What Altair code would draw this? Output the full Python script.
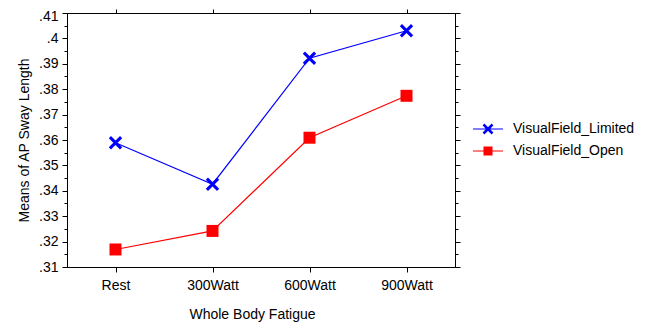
import altair as alt
import pandas as pd

categories = ["Rest", "300Watt", "600Watt", "900Watt"]
series_names = ["VisualField_Limited", "VisualField_Open"]
limited_values = [0.3589, 0.3426, 0.3922, 0.4030]
open_values = [0.3169, 0.3242, 0.3609, 0.3774]
y_tick_values = [0.31, 0.315, 0.32, 0.325, 0.33, 0.335, 0.34, 0.345, 0.35, 0.355,
                 0.36, 0.365, 0.37, 0.375, 0.38, 0.385, 0.39, 0.395, 0.40, 0.405, 0.41]

rows = []
for name, vals in zip(series_names, [limited_values, open_values]):
    for c, v in zip(categories, vals):
        rows.append({"fatigue": c, "series": name, "value": v})
df = pd.DataFrame(rows)

BLUE = "#0000ff"
RED = "#ff0000"
FONT = "Liberation Sans"
FS = 14


def xpath(a, w):
    d = w / 2 ** 0.5
    p1 = [(-a + d, -a - d), (a + d, a - d), (a - d, a + d), (-a - d, -a + d)]
    p2 = [(-a - d, a - d), (a - d, -a - d), (a + d, -a + d), (-a + d, a + d)]
    out = ""
    for poly in (p1, p2):
        out += "M" + "L".join(f"{x:.3f},{y:.3f}" for x, y in poly) + "Z"
    return out


def sqpath(s):
    return f"M{-s:.3f},{-s:.3f}L{s:.3f},{-s:.3f}L{s:.3f},{s:.3f}L{-s:.3f},{s:.3f}Z"


line_rect = "M-1,-0.04L1,-0.04L1,0.04L-1,0.04Z"
chart_x = xpath(0.8, 0.22)
chart_sq = sqpath(0.857)
legend_x = line_rect + xpath(0.3, 0.085)
legend_sq = line_rect + sqpath(0.3)

xscale = alt.Scale(type="point", domain=categories, padding=0.5)
yscale = alt.Scale(domain=[0.31, 0.41], nice=False, zero=False)
cscale = alt.Scale(domain=series_names, range=[BLUE, RED])

major_test = "round(datum.value*1000) % 10 == 0"
tick_size = {"condition": {"test": major_test, "value": 5}, "value": 3}
top_label_offset = {"condition": {"test": "datum.value > 0.409", "value": 3}, "value": 0}

left_axis = alt.Axis(
    values=y_tick_values, tickSize=tick_size, grid=False,
    labelExpr=f"{major_test} ? substring(format(datum.value, '.2~f'), 1) : ''",
    labelOffset=top_label_offset,
    labelPadding=4, title="Means of AP Sway Length", titlePadding=7,
    domainColor="black", tickColor="black",
)
right_axis = alt.Axis(
    orient="right", values=y_tick_values, tickSize=tick_size, grid=False,
    labels=False, title=None, domainColor="black", tickColor="black",
)
bottom_axis = alt.Axis(
    orient="bottom", tickSize=5, labelPadding=6, labelAngle=0, grid=False,
    title="Whole Body Fatigue", titlePadding=15, titleX=185,
    domainColor="black", tickColor="black",
)
top_axis = alt.Axis(
    orient="top", tickSize=4, labels=False, title=None, grid=False,
    domainColor="black", tickColor="black",
)

base = alt.Chart(df)
lim = base.transform_filter(alt.datum.series == series_names[0])
opn = base.transform_filter(alt.datum.series == series_names[1])

line_limited = lim.mark_line(strokeWidth=1.2, color=BLUE).encode(
    x=alt.X("fatigue:N", scale=xscale, sort=categories, axis=bottom_axis),
    y=alt.Y("value:Q", scale=yscale, axis=left_axis),
)
line_open = opn.mark_line(strokeWidth=1.2, color=RED).encode(
    x=alt.X("fatigue:N", scale=xscale, sort=categories, axis=None),
    y=alt.Y("value:Q", scale=yscale, axis=None),
)

pts_limited = lim.mark_point(shape=chart_x, filled=True, size=196, color=BLUE, opacity=1).encode(
    x=alt.X("fatigue:N", scale=xscale, sort=categories, axis=top_axis),
    y=alt.Y("value:Q", scale=yscale, axis=right_axis),
)
pts_open = opn.mark_point(shape=chart_sq, filled=True, size=196, color=RED, opacity=1).encode(
    x=alt.X("fatigue:N", scale=xscale, sort=categories, axis=None),
    y=alt.Y("value:Q", scale=yscale, axis=None),
)

legend_def = alt.Legend(
    title=None, orient="none", legendX=406, legendY=101,
    symbolSize=900, symbolOpacity=1, symbolStrokeWidth=0,
    labelFont=FONT, labelFontSize=FS, labelColor="black", labelOffset=10,
    rowPadding=0,
)

legend_layer = base.mark_point(filled=True, size=0).encode(
    x=alt.X("fatigue:N", scale=xscale, sort=categories, axis=None),
    y=alt.Y("value:Q", scale=yscale, axis=None),
    color=alt.Color("series:N", scale=cscale, legend=legend_def),
    shape=alt.Shape("series:N", scale=alt.Scale(domain=series_names, range=[legend_x, legend_sq]),
                    legend=legend_def),
)

chart = alt.layer(line_limited, line_open, pts_limited, pts_open, legend_layer).resolve_axis(
    x="independent", y="independent"
).properties(
    width=388, height=254,
    autosize=alt.AutoSizeParams(type="none"),
    padding={"left": 59, "top": 5, "right": 187, "bottom": 56},
    background="white",
).configure_view(
    stroke="black", strokeWidth=1
).configure_axis(
    labelFont=FONT, titleFont=FONT, labelFontSize=FS, titleFontSize=FS,
    titleFontWeight="normal", labelColor="black", titleColor="black",
    domainWidth=1, tickWidth=1,
)

chart.save("out.html", embed_options={"renderer": "svg", "actions": False})
